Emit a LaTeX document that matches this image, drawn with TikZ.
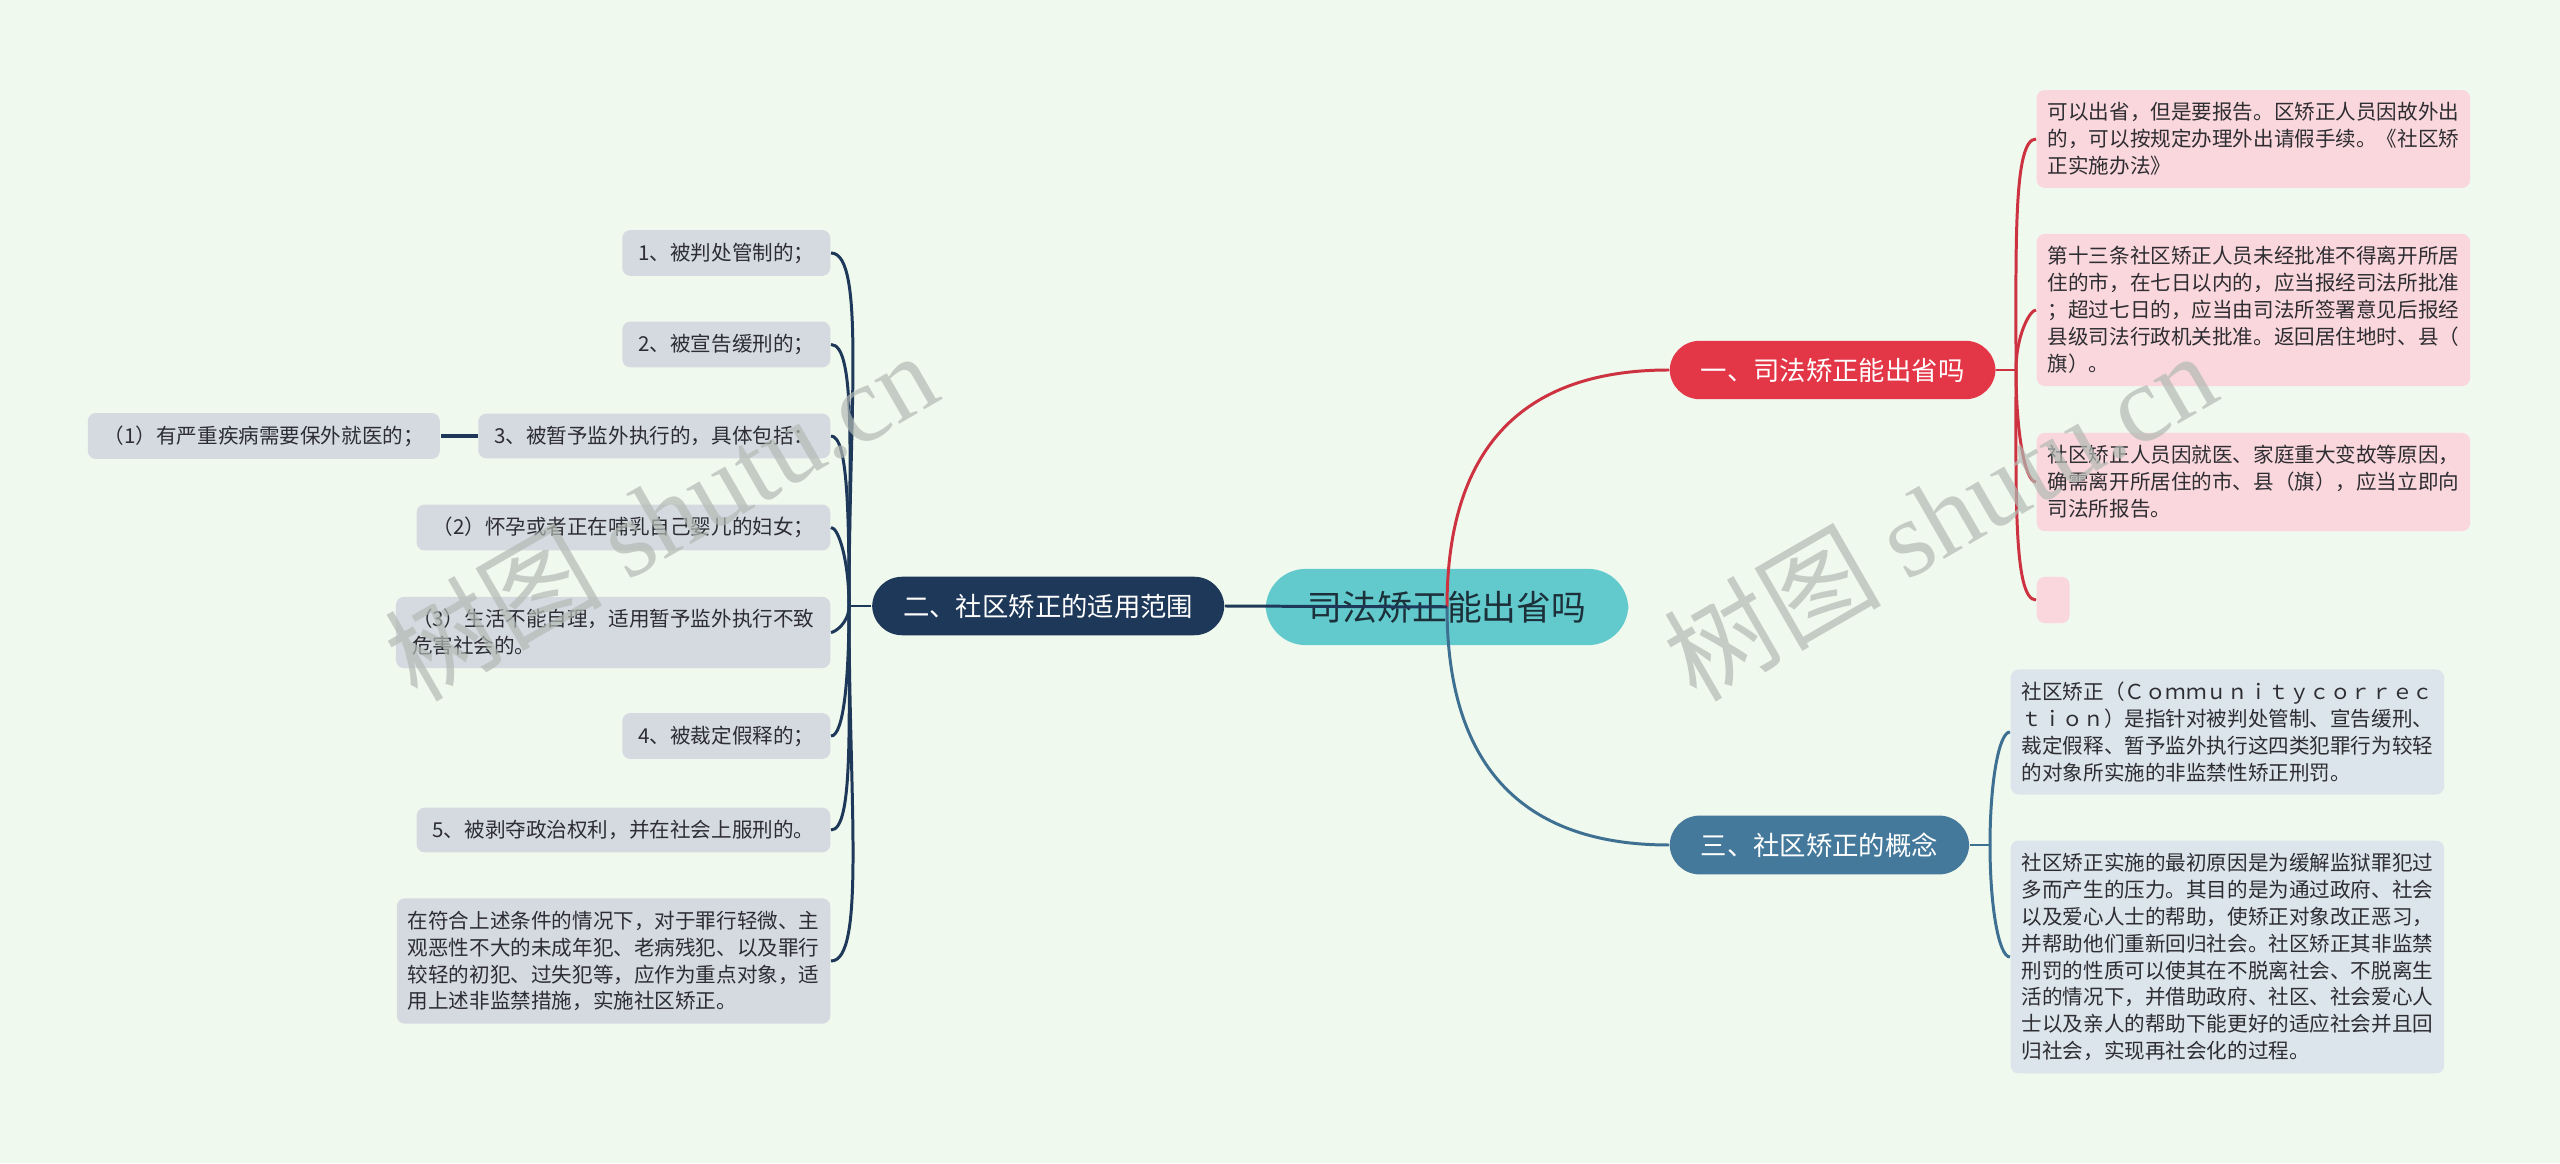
\documentclass[tikz,border=0pt]{standalone}
\usepackage{fontspec}
\usepackage{xcolor}
\usepackage{tikz}
\usetikzlibrary{positioning}
\newfontfamily\cjk{Noto Sans CJK SC}
\newfontfamily\wmserif{Liberation Serif}
\definecolor{bgmint}{RGB}{240, 249, 238}
\definecolor{rootteal}{RGB}{98, 202, 205}
\definecolor{rootink}{RGB}{28, 48, 58}
\definecolor{brred}{RGB}{227, 54, 70}
\definecolor{brnavy}{RGB}{30, 56, 90}
\definecolor{brblue}{RGB}{68, 121, 155}
\definecolor{lnred}{RGB}{205, 50, 64}
\definecolor{lnblue}{RGB}{62, 112, 146}
\definecolor{leafpink}{RGB}{250, 215, 220}
\definecolor{leafgrey}{RGB}{213, 218, 225}
\definecolor{leafblue}{RGB}{220, 228, 236}
\definecolor{leafink}{RGB}{45, 45, 50}
\definecolor{markgrey}{RGB}{178, 186, 180}

\begin{document}
\begin{tikzpicture}[
    x=0.01cm, y=0.01cm,
    rootnode/.style={fill=rootteal, rounded corners=0.4cm,
                     inner xsep=0.42cm, inner ysep=0.22cm,
                     font=\cjk\fontsize{9.9pt}{12pt}\selectfont, text=rootink},
    branchnode/.style={rounded corners=0.3cm, inner xsep=0.31cm, inner ysep=0.17cm,
                       font=\cjk\fontsize{7.5pt}{9pt}\selectfont, text=white},
    leafnode/.style={rounded corners=0.08cm, inner xsep=0.11cm, inner ysep=0.125cm,
                     align=left, text=leafink,
                     font=\cjk\fontsize{5.85pt}{7.65pt}\selectfont},
    pinkleaf/.style={leafnode, fill=leafpink, anchor=west},
    blueleaf/.style={leafnode, fill=leafblue, anchor=west},
    greyleaf/.style={leafnode, fill=leafgrey, inner xsep=0.16cm, anchor=east},
    redline/.style={draw=lnred, line width=0.85pt},
    navyline/.style={draw=brnavy, line width=0.85pt},
    blueline/.style={draw=lnblue, line width=0.85pt},
    rup/.style={out=90, in=180, out looseness=1.4, in looseness=0.25},
    rdown/.style={out=270, in=180, out looseness=1.4, in looseness=0.25},
    lup/.style={out=90, in=0, out looseness=1.4, in looseness=0.25},
    ldown/.style={out=270, in=0, out looseness=1.4, in looseness=0.25},
    watermark/.style={rotate=30, text=markgrey, opacity=0.7,
                      font=\fontsize{31pt}{31pt}\selectfont},
]
    \fill[bgmint] (0,0) rectangle (2560,1163);
    \useasboundingbox (0,0) rectangle (2560,1163);

    % root and the three branches
    \node[rootnode] (root) at (1447,556) {司法矫正能出省吗};
    \node[branchnode, fill=brred, anchor=west] (b1) at (1669,793) {一、司法矫正能出省吗};
    \node[branchnode, fill=brnavy, anchor=east] (b2) at (1225,557) {二、社区矫正的适用范围};
    \node[branchnode, fill=brblue, anchor=west] (b3) at (1669,318) {三、社区矫正的概念};

    % right, red branch
    \node[pinkleaf] (r1) at (2036,1024) {可以出省，但是要报告。区矫正人员因故外出\\的，可以按规定办理外出请假手续。《社区矫\\正实施办法》};
    \node[pinkleaf] (r2) at (2036,853) {第十三条社区矫正人员未经批准不得离开所居\\住的市，在七日以内的，应当报经司法所批准\\；超过七日的，应当由司法所签署意见后报经\\县级司法行政机关批准。返回居住地时、县（\\旗）。};
    \node[pinkleaf] (r3) at (2036,681) {社区矫正人员因就医、家庭重大变故等原因，\\确需离开所居住的市、县（旗），应当立即向\\司法所报告。};
    \node[pinkleaf, minimum width=0.33cm, minimum height=0.46cm] (r4) at (2036,563) {};

    % right, blue branch
    \node[blueleaf] (s1) at (2010,431) {社区矫正（Ｃｏｍｍｕｎｉｔｙｃｏｒｒｅｃ\\ｔｉｏｎ）是指针对被判处管制、宣告缓刑、\\裁定假释、暂予监外执行这四类犯罪行为较轻\\的对象所实施的非监禁性矫正刑罚。};
    \node[blueleaf] (s2) at (2010,206) {社区矫正实施的最初原因是为缓解监狱罪犯过\\多而产生的压力。其目的是为通过政府、社会\\以及爱心人士的帮助，使矫正对象改正恶习，\\并帮助他们重新回归社会。社区矫正其非监禁\\刑罚的性质可以使其在不脱离社会、不脱离生\\活的情况下，并借助政府、社区、社会爱心人\\士以及亲人的帮助下能更好的适应社会并且回\\归社会，实现再社会化的过程。};

    % left, navy branch
    \node[greyleaf] (l1) at (831,910) {1、被判处管制的；};
    \node[greyleaf] (l2) at (831,818.5) {2、被宣告缓刑的；};
    \node[greyleaf] (l3) at (831,727) {3、被暂予监外执行的，具体包括：};
    \node[greyleaf, left=0.37cm of l3] (l3a) {（1）有严重疾病需要保外就医的；};
    \node[greyleaf] (l4) at (831,635.5) {（2）怀孕或者正在哺乳自己婴儿的妇女；};
    \node[greyleaf] (l5) at (831,530.5) {（3）生活不能自理，适用暂予监外执行不致\\危害社会的。};
    \node[greyleaf] (l6) at (831,427) {4、被裁定假释的；};
    \node[greyleaf] (l7) at (831,333) {5、被剥夺政治权利，并在社会上服刑的。};
    \node[greyleaf, inner xsep=0.11cm] (l8) at (831,202) {在符合上述条件的情况下，对于罪行轻微、主\\观恶性不大的未成年犯、老病残犯、以及罪行\\较轻的初犯、过失犯等，应作为重点对象，适\\用上述非监禁措施，实施社区矫正。};

    \coordinate (h1) at (2016,793);
    \coordinate (h2) at (849,557);
    \coordinate (h3) at (1990,318);

    % root to branches
    \draw[redline] (root.center) .. controls (1447,723) and (1530,793) .. (b1.west);
    \draw[blueline] (root.center) .. controls (1447,389) and (1530,318) .. (b3.west);
    \draw[navyline] (b2.east) -- (root.center);

    % branches to leaves
    \draw[redline] (b1.east) -- (h1);
    \draw[redline] (h1) to[rup] (r1.west);
    \draw[redline] (h1) to[rup] (r2.west);
    \draw[redline] (h1) to[rdown] (r3.west);
    \draw[redline] (h1) to[rdown] (r4.west);

    \draw[blueline] (b3.east) -- (h3);
    \draw[blueline] (h3) to[rup] (s1.west);
    \draw[blueline] (h3) to[rdown] (s2.west);

    \draw[navyline] (b2.west) -- (h2);
    \foreach \n in {l1, l2, l3, l4}
        \draw[navyline] (h2) to[lup] (\n.east);
    \foreach \n in {l5, l6, l7, l8}
        \draw[navyline] (h2) to[ldown] (\n.east);
    \draw[navyline, line width=1.1pt] (l3.west) -- (l3a.east);

    % watermarks
    \node[watermark] (wm1) at (660,648) {\cjk 树图 \wmserif shutu.cn};
    \node[watermark] (wm2) at (1939,648) {\cjk 树图 \wmserif shutu.cn};
\end{tikzpicture}
\end{document}
